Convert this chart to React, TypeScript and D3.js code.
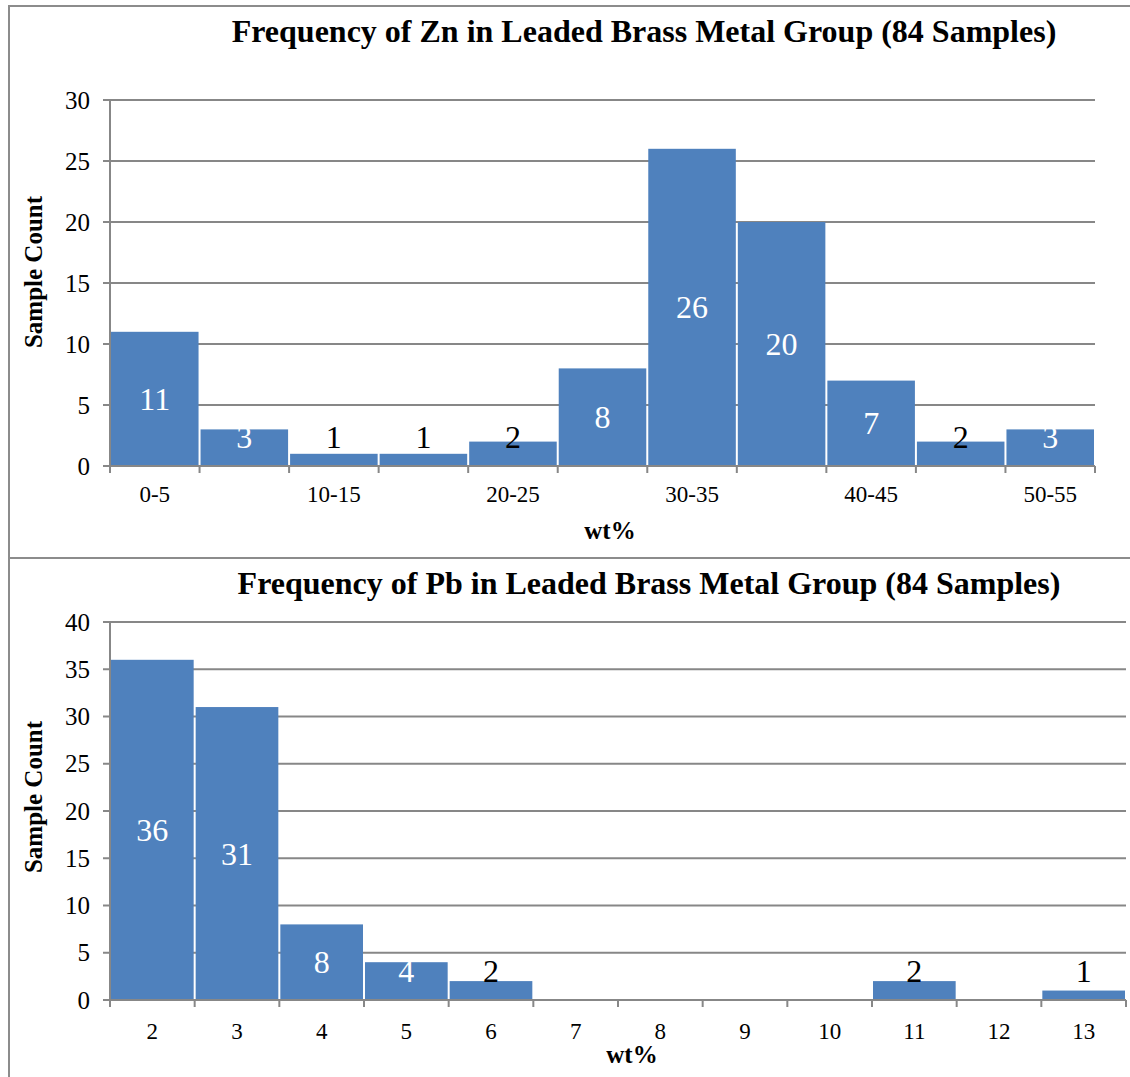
import React from "react";
import * as d3 from "d3";

const znCategories = ["0-5","5-10","10-15","15-20","20-25","25-30","30-35","35-40","40-45","45-50","50-55"];
const znValues = [11,3,1,1,2,8,26,20,7,2,3];
const znTickLabels = ["0-5","10-15","20-25","30-35","40-45","50-55"];
const znTitle = "Frequency of Zn in Leaded Brass Metal Group (84 Samples)";

const pbCategories = ["2","3","4","5","6","7","8","9","10","11","12","13"];
const pbValues = [36,31,8,4,2,0,0,0,0,2,0,1];
const pbTitle = "Frequency of Pb in Leaded Brass Metal Group (84 Samples)";

const yTitle = "Sample Count";
const xTitle = "wt%";

const FONT = "'Liberation Serif', 'Times New Roman', serif";
const BAR = "#4F81BD";
const GRID = "#878787";

function T({x, y, size, bold, fill = "#000", anchor = "middle", rotate = 0, children}: any) {
  const tr = rotate ? `translate(${x},${y}) rotate(${rotate})` : `translate(${x},${y})`;
  return (
    <text transform={tr} fontFamily={FONT} fontSize={size} fontWeight={bold ? "bold" : "normal"}
      fill={fill} textAnchor={anchor} dominantBaseline="central">{children}</text>
  );
}

function Hist({cats, vals, yMax, top, bottom, left, right, labelClampY, titleText, titleY, titleX, xTitleX, xTitleY, yTitleY, tickLabelY, showTick}: any) {
  const x = d3.scaleBand().domain(cats).range([left, right]).padding(0);
  const y = d3.scaleLinear().domain([0, yMax]).range([bottom, top]);
  const yTicks = d3.range(0, yMax + 1, 5);
  return (
    <g>
      <T x={titleX} y={titleY} size={32} bold>{titleText}</T>
      {yTicks.map((t: number) => (
        <g key={t}>
          <line x1={left - 7} x2={t === 0 ? left : right} y1={y(t)} y2={y(t)} stroke={GRID} strokeWidth={2} />
          <T x={left - 20} y={y(t)} size={25} anchor="end">{t}</T>
        </g>
      ))}
      {cats.map((c: string, i: number) => vals[i] > 0 ? (
        <rect key={c} x={x(c)! + 1} width={x.bandwidth() - 2} y={y(vals[i])} height={bottom - y(vals[i])} fill={BAR} />
      ) : null)}
      <line x1={left} x2={left} y1={top} y2={bottom + 7} stroke={GRID} strokeWidth={2} />
      <line x1={left} x2={right} y1={bottom} y2={bottom} stroke={GRID} strokeWidth={2} />
      {cats.map((c: string) => (
        <line key={"t" + c} x1={x(c)! + x.bandwidth()} x2={x(c)! + x.bandwidth()} y1={bottom} y2={bottom + 7} stroke={GRID} strokeWidth={2} />
      ))}
      {cats.map((c: string) => showTick(c) ? (
        <T key={"l" + c} x={x(c)! + x.bandwidth() / 2} y={tickLabelY} size={23}>{c}</T>
      ) : null)}
      {cats.map((c: string, i: number) => vals[i] > 0 ? (
        <T key={"v" + c} x={x(c)! + x.bandwidth() / 2}
          y={Math.min((y(vals[i]) + bottom) / 2, labelClampY)} size={32}
          fill={y(vals[i]) < labelClampY ? "#fff" : "#000"}>{vals[i]}</T>
      ) : null)}
      <T x={xTitleX} y={xTitleY} size={25} bold>{xTitle}</T>
      <T x={33} y={yTitleY} size={25} bold rotate={-90}>{yTitle}</T>
    </g>
  );
}

export default function App() {
  return (
    <svg width={1130} height={1077} style={{position: "absolute", left: 0, top: 0, background: "#fff"}}>
      <rect x={0} y={0} width={1130} height={1077} fill="#fff" />
      <rect x={9} y={6} width={1140} height={552} fill="none" stroke="#8c8c8c" strokeWidth={2} />
      <rect x={9} y={558} width={1140} height={540} fill="none" stroke="#8c8c8c" strokeWidth={2} />
      <Hist cats={znCategories} vals={znValues} yMax={30}
        top={100} bottom={466} left={110} right={1095} labelClampY={437}
        titleText={znTitle} titleY={31} titleX={644} xTitleX={610} xTitleY={530}
        yTitleY={272} tickLabelY={494} showTick={(c: string) => znTickLabels.includes(c)} />
      <Hist cats={pbCategories} vals={pbValues} yMax={40}
        top={622} bottom={1000} left={110} right={1126} labelClampY={971}
        titleText={pbTitle} titleY={583} titleX={649} xTitleX={632} xTitleY={1054}
        yTitleY={797} tickLabelY={1031} showTick={() => true} />
    </svg>
  );
}
